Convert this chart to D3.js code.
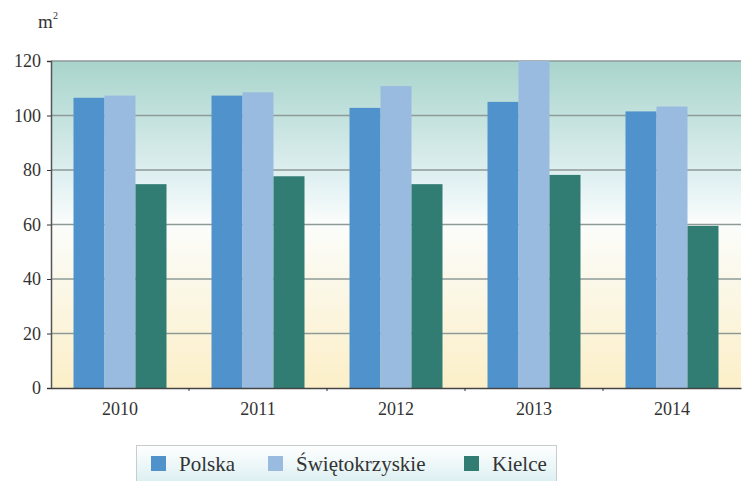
<!DOCTYPE html>
<html><head><meta charset="utf-8">
<script src="https://cdn.jsdelivr.net/npm/d3@7"></script>
</head><body style="margin:0">
<svg id="c" width="743" height="481" font-family="Liberation Serif"></svg>
<script>
const years = ["2010","2011","2012","2013","2014"];
const seriesNames = ["Polska","Świętokrzyskie","Kielce"];
const polska = [106.5, 107.3, 102.8, 105.0, 101.5];
const swietokrzyskie = [107.3, 108.5, 110.8, 120, 103.3];
const kielce = [74.8, 77.7, 74.8, 78.2, 59.5];
const yTicks = [0,20,40,60,80,100,120];
const colors = ["#5093cc","#9abbe0","#317d73"];
const FONT = "Liberation Serif";

const svg = d3.select("#c");
const W=743,H=481;
const m={left:51,right:2,top:61,bottom:93};
const x = d3.scaleBand().domain(years).range([m.left, W-m.right]).paddingInner(0).paddingOuter(0);
const y = d3.scaleLinear().domain([0,120]).range([H-m.bottom, m.top]);
const defs = svg.append("defs");
const g = defs.append("linearGradient").attr("id","bg").attr("x1",0).attr("x2",0).attr("y1",0).attr("y2",1);
g.append("stop").attr("offset","0%").attr("stop-color","#a8d4cb");
g.append("stop").attr("offset","38%").attr("stop-color","#e4f2f4");
g.append("stop").attr("offset","50%").attr("stop-color","#fbfdfb");
g.append("stop").attr("offset","100%").attr("stop-color","#fcefc8");
const lg = defs.append("linearGradient").attr("id","lg").attr("x1",0).attr("x2",0).attr("y1",0).attr("y2",1);
lg.append("stop").attr("offset","0%").attr("stop-color","#ffffff");
lg.append("stop").attr("offset","100%").attr("stop-color","#d9eef0");

svg.append("rect").attr("x",m.left).attr("y",m.top).attr("width",W-m.right-m.left).attr("height",H-m.bottom-m.top).attr("fill","url(#bg)");

svg.append("g").selectAll("line").data(yTicks.filter(d=>d>0)).join("line")
 .attr("x1",m.left).attr("x2",W-m.right).attr("y1",d=>y(d)).attr("y2",d=>y(d))
 .attr("stroke","#8e9a98").attr("stroke-width",1.3);

const x1 = d3.scaleBand().domain(seriesNames).range([0,93]);
const data = [polska, swietokrzyskie, kielce];
const groups = svg.append("g");
years.forEach((yr,i)=>{
  const cx = x(yr)+x.bandwidth()/2 - 46.5;
  seriesNames.forEach((s,j)=>{
    groups.append("rect").attr("x",cx+x1(s)).attr("width",x1.bandwidth())
      .attr("y",y(data[j][i])).attr("height",y(0)-y(data[j][i])).attr("fill",colors[j]);
  });
});

const ax = svg.append("g").attr("transform",`translate(${m.left},0)`)
 .call(d3.axisLeft(y).tickValues(yTicks).tickSize(4).tickPadding(6));
ax.attr("font-family",FONT).attr("font-size",18);
ax.select(".domain").attr("stroke","#555").attr("stroke-width",1.5);
ax.selectAll(".tick line").attr("stroke","#333");
ax.selectAll("text").attr("font-family",FONT).style("font-family",`'${FONT}'`).attr("font-size",18).attr("fill","#333");

const bx = svg.append("g").attr("transform",`translate(0,${H-m.bottom})`)
 .call(d3.axisBottom(x).tickSize(0).tickPadding(14));
bx.attr("font-family",FONT).attr("font-size",18);
bx.select(".domain").attr("stroke","#444").attr("stroke-width",1.5);
bx.selectAll("text").attr("font-family",FONT).style("font-family",`'${FONT}'`).attr("font-size",18).attr("fill","#333");
bx.append("g").selectAll("line").data(years.slice(1)).join("line")
 .attr("x1",d=>x(d)).attr("x2",d=>x(d)).attr("y1",0).attr("y2",3).attr("stroke","#333");

function txt(sel){ return sel.attr("font-family",FONT).style("font-family",`'${FONT}'`); }
txt(svg.append("text")).attr("x",38).attr("y",28).attr("font-size",19).attr("fill","#333").text("m");
txt(svg.append("text")).attr("x",53).attr("y",19).attr("font-size",10).attr("fill","#333").text("2");

const leg = svg.append("g");
leg.append("rect").attr("x",136.5).attr("y",445.5).attr("width",420).attr("height",40)
 .attr("fill","url(#lg)").attr("stroke","#c8cccc");
const lx=[151,268,464];
seriesNames.forEach((s,j)=>{
  leg.append("rect").attr("x",lx[j]).attr("y",456).attr("width",15).attr("height",15).attr("fill",colors[j]);
  txt(leg.append("text")).attr("x",lx[j]+28).attr("y",471).attr("font-size",21).attr("fill","#333").text(s);
});
</script>
</body></html>
